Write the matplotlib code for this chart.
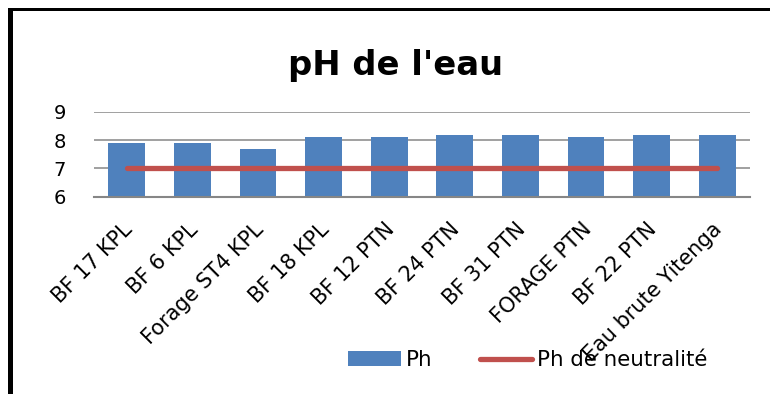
import matplotlib
matplotlib.use("Agg")
import matplotlib.pyplot as plt
import matplotlib.transforms as mtransforms
from matplotlib.patches import Rectangle

# pH measurements per sampling point
sites = [
    "BF 17 KPL", "BF 6 KPL", "Forage ST4 KPL", "BF 18 KPL", "BF 12 PTN",
    "BF 24 PTN", "BF 31 PTN", "FORAGE PTN", "BF 22 PTN", "Eau brute Yitenga",
]
ph_values = [7.9, 7.9, 7.7, 8.1, 8.1, 8.2, 8.2, 8.1, 8.2, 8.2]
ph_neutral = [7, 7, 7, 7, 7, 7, 7, 7, 7, 7]
y_ticks = [6, 7, 8, 9]

plt.rcParams["font.family"] = ["DejaVu Sans"]

fig = plt.figure(figsize=(7.7, 3.94), dpi=100)
ax = fig.add_axes([94 / 770, 1 - 196.7 / 394, 656 / 770, 84.7 / 394])

x = list(range(len(sites)))
bars = ax.bar(x, ph_values, width=0.56, color="#4F81BD", label="Ph", zorder=2)
line, = ax.plot(x, ph_neutral, color="#C0504D", linewidth=3.8, solid_capstyle="round",
                label="Ph de neutralité", zorder=3)

ax.set_xlim(-0.5, len(sites) - 0.5)
ax.set_ylim(6, 9)
ax.set_yticks(y_ticks)
ax.yaxis.grid(True, color="#868686", linewidth=1.1, zorder=0)
ax.set_axisbelow(True)
for side in ["top", "right", "left"]:
    ax.spines[side].set_visible(False)
ax.spines["bottom"].set_color("#868686")
ax.spines["bottom"].set_linewidth(1.5)

ax.tick_params(axis="y", length=0, pad=20, labelsize=14)
ax.tick_params(axis="x", length=0, pad=21.5, labelsize=15)
ax.set_xticks(x)
ax.set_xticklabels(sites, rotation=45, ha="right", va="center", rotation_mode="anchor")
shift = mtransforms.ScaledTranslation(2 / 100, 0, fig.dpi_scale_trans)
for lbl in ax.get_xticklabels():
    lbl.set_transform(lbl.get_transform() + shift)

fig.text(396 / 770, 1 - 66 / 394, "pH de l'eau", ha="center", va="center",
         fontsize=24.3, fontweight="bold")

fig.legend([bars, line], ["Ph", "Ph de neutralité"], loc="center",
           bbox_to_anchor=(528 / 770, 1 - 360 / 394), ncol=2,
           frameon=False, fontsize=15.4, handlelength=2.45, handleheight=0.7,
           handletextpad=0.25, columnspacing=2.2)

# black frame on left and top edges
fig.add_artist(Rectangle((8 / 770, -0.1), 5 / 770, 1 - 8 / 394 + 0.1,
                         transform=fig.transFigure, color="black", lw=0))
fig.add_artist(Rectangle((8 / 770, 1 - 11 / 394), 1, 3 / 394,
                         transform=fig.transFigure, color="black", lw=0))

fig.savefig("out.png", dpi=100)
